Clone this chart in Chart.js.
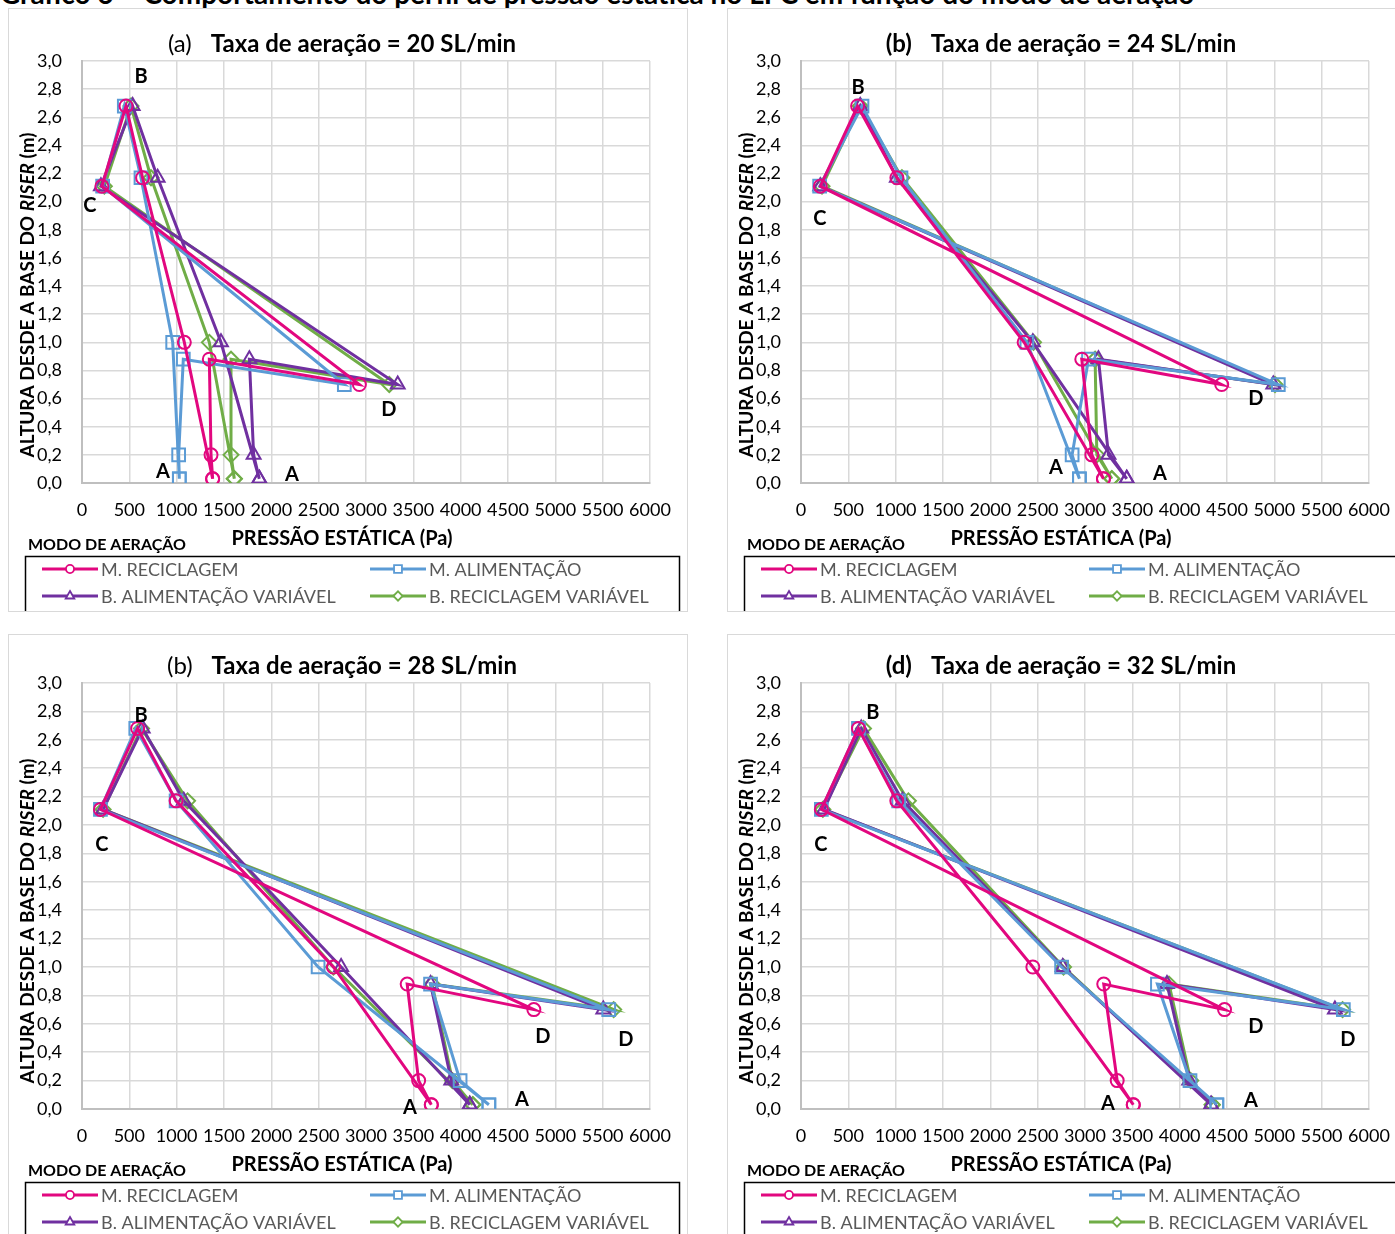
<!DOCTYPE html>
<html>
<head>
<meta charset="utf-8">
<script src="https://cdn.jsdelivr.net/npm/chart.js@4.4.1/dist/chart.umd.min.js"></script>
<style>
  html, body { margin: 0; padding: 0; background: #fff; }
  body { width: 1395px; height: 1234px; overflow: hidden; position: relative; font-family: Lato, "Liberation Sans", sans-serif; }
  .heading { position: absolute; left: 0; top: -24px; white-space: nowrap; font: bold 28px Lato, sans-serif; color: #000; }
  .panel { position: absolute; outline: 1px solid #d9d9d9; outline-offset: -1px; background: #fff; }
</style>
</head>
<body>
<div class="heading">Gráfico 6 – Comportamento do perfil de pressão estática no LFC em função do modo de aeração</div>
<canvas class="panel" id="p20" width="680" height="604" style="left:8px;top:8px"></canvas>
<canvas class="panel" id="p24" width="680" height="604" style="left:727px;top:8px"></canvas>
<canvas class="panel" id="p28" width="680" height="604" style="left:8px;top:634px"></canvas>
<canvas class="panel" id="p32" width="680" height="604" style="left:727px;top:634px"></canvas>
<script>
// Series names (aeration modes)
const SERIES_NAMES = ['M. RECICLAGEM', 'M. ALIMENTAÇÃO', 'B. ALIMENTAÇÃO VARIÁVEL', 'B. RECICLAGEM VARIÁVEL'];

// Pressure-tap heights (m), walked around the loop:
// A (riser base) -> riser 1.0 -> riser 2.17 -> B (top) -> C (cyclone) -> D -> 0.88 -> 0.20
const HEIGHTS = [0.03, 1.00, 2.17, 2.68, 2.11, 0.70, 0.88, 0.20];

// Static pressure (Pa) at each tap, aeration rate 20 SL/min
const P20_RECICLAGEM   = [1380, 1081, 640, 465, 210, 2930, 1345, 1363];
const P20_ALIMENTACAO  = [1028,  958, 623, 447, 218, 2771, 1070, 1021];
const P20_ALIM_VAR     = [1873, 1468, 799, 535, 200, 3335, 1768, 1813];
const P20_RECIC_VAR    = [1609, 1345, 729, 518, 236, 3246, 1574, 1574];

// 24 SL/min
const P24_RECICLAGEM   = [3195, 2357, 1013, 598, 204, 4444, 2966, 3072];
const P24_ALIMENTACAO  = [2941, 2386, 1056, 644, 197, 5042, 3037, 2864];
const P24_ALIM_VAR     = [3441, 2449, 1013, 626, 204, 4989, 3142, 3248];
const P24_RECIC_VAR    = [3283, 2456, 1066, 626, 222, 5007, 3107, 3125];

// 28 SL/min
const P28_RECICLAGEM   = [3690, 2656,  994, 588, 195, 4773, 3435, 3556];
const P28_ALIMENTACAO  = [4298, 2494,  994, 568, 195, 5564, 3682, 3994];
const P28_ALIM_VAR     = [4096, 2737, 1075, 641, 223, 5507, 3682, 3901];
const P28_RECIC_VAR    = [4128, 2656, 1115, 629, 223, 5616, 3698, 3913];

// 32 SL/min
const P32_RECICLAGEM   = [3510, 2449, 1012, 607, 215, 4474, 3198, 3340];
const P32_ALIMENTACAO  = [4393, 2753, 1032, 607, 215, 5729, 3765, 4109];
const P32_ALIM_VAR     = [4332, 2765, 1073, 636, 243, 5640, 3866, 4101];
const P32_RECIC_VAR    = [4344, 2773, 1134, 660, 231, 5721, 3887, 4117];

// Panel captions
const PANEL_TAGS   = ['(a)', '(b)', '(b)', '(d)'];
const PANEL_TEXTS  = ['Taxa de aeração = 20 SL/min', 'Taxa de aeração = 24 SL/min',
                      'Taxa de aeração = 28 SL/min', 'Taxa de aeração = 32 SL/min'];
const X_TITLE = 'PRESSÃO ESTÁTICA (Pa)';
const LEGEND_CAPTION = 'MODO DE AERAÇÃO';

// Loop point letters, anchored in data units (Pa, m)
const LETTERS_20 = [['B', 623, 2.89], ['C', 84, 1.97], ['D', 3242, 0.52], ['A', 855, 0.08], ['A', 2218, 0.06]];
const LETTERS_24 = [['B', 602, 2.81], ['C', 200, 1.88], ['D', 4805, 0.60], ['A', 2693, 0.11], ['A', 3791, 0.07]];
const LETTERS_28 = [['B', 623, 2.77], ['C', 211, 1.86], ['D', 4868, 0.51], ['D', 5745, 0.49], ['A', 3464, 0.01], ['A', 4646, 0.07]];
const LETTERS_32 = [['B', 760, 2.79], ['C', 211, 1.86], ['D', 4805, 0.58], ['D', 5776, 0.49], ['A', 3242, 0.04], ['A', 4752, 0.06]];

const X_MIN = 0, X_MAX = 6000, X_STEP = 500;
const Y_MIN = 0, Y_MAX = 3, Y_STEP = 0.2;

// ---- styling ----
const FONT = 'Lato';
const SERIES_STYLE = [
  { color: '#E2077F', point: 'circle',   radius: 6.5 },
  { color: '#5B9BD5', point: 'rect',     radius: 9   },
  { color: '#7030A0', point: 'triangle', radius: 8   },
  { color: '#70AD47', point: 'rectRot',  radius: 7.5 }
];

const PANELS = [
  { id: 'p20', series: [P20_RECICLAGEM, P20_ALIMENTACAO, P20_ALIM_VAR, P20_RECIC_VAR], letters: LETTERS_20, boldTag: false, plotTop: 53 },
  { id: 'p24', series: [P24_RECICLAGEM, P24_ALIMENTACAO, P24_ALIM_VAR, P24_RECIC_VAR], letters: LETTERS_24, boldTag: true,  plotTop: 53 },
  { id: 'p28', series: [P28_RECICLAGEM, P28_ALIMENTACAO, P28_ALIM_VAR, P28_RECIC_VAR], letters: LETTERS_28, boldTag: false, plotTop: 49 },
  { id: 'p32', series: [P32_RECICLAGEM, P32_ALIMENTACAO, P32_ALIM_VAR, P32_RECIC_VAR], letters: LETTERS_32, boldTag: true,  plotTop: 49 }
];

const PLOT_BOTTOM = 475;   // canvas y of the plot's lower edge
const PLOT_LEFT = 74;
const PLOT_RIGHT_PAD = 38;
const TEXT_CENTER_X = 334; // captions are centred on the panel, not the plot

// Draws caption, axis titles, legend box and loop letters
const panelDecor = {
  id: 'panelDecor',
  afterDatasetsDraw(chart, args, opts) {
    const ctx = chart.ctx;
    const xs = chart.scales.x, ys = chart.scales.y;
    ctx.save();
    ctx.fillStyle = '#000';
    ctx.textAlign = 'center';
    ctx.textBaseline = 'middle';
    ctx.font = `bold 20px ${FONT}`;
    for (const [t, px, h] of opts.letters) {
      ctx.fillText(t, xs.getPixelForValue(px), ys.getPixelForValue(h));
    }
    ctx.restore();
  },
  afterDraw(chart, args, opts) {
    const ctx = chart.ctx;
    ctx.save();
    ctx.fillStyle = '#000';
    ctx.textBaseline = 'middle';

    // caption: tag + bold text
    const tagFont = `${opts.boldTag ? 'bold ' : ''}24px ${FONT}`;
    const txtFont = `bold 24px ${FONT}`;
    ctx.font = tagFont;
    const wTag = ctx.measureText(opts.tag).width;
    ctx.font = txtFont;
    const wTxt = ctx.measureText(opts.text).width;
    const gap = 19;
    const total = wTag + gap + wTxt;
    const x0 = TEXT_CENTER_X - total / 2;
    const cy = opts.plotTop - 17;
    ctx.textAlign = 'left';
    ctx.font = tagFont; ctx.fillText(opts.tag, x0, cy);
    ctx.font = txtFont; ctx.fillText(opts.text, x0 + wTag + gap, cy);

    // horizontal axis title
    ctx.textAlign = 'center';
    ctx.font = `bold 20px ${FONT}`;
    ctx.fillText(X_TITLE, TEXT_CENTER_X, 531);

    // vertical axis title with italic RISER
    ctx.textAlign = 'left';
    const parts = [['ALTURA DESDE A BASE DO ', 'bold'], ['RISER', 'italic bold'], [' (m)', 'bold']];
    let totalW = 0;
    for (const p of parts) { ctx.font = `${p[1]} 19px ${FONT}`; p.push(ctx.measureText(p[0]).width); totalW += p[2]; }
    ctx.translate(20, 287);
    ctx.rotate(-Math.PI / 2);
    let tx = -totalW / 2;
    for (const p of parts) { ctx.font = `${p[1]} 19px ${FONT}`; ctx.fillText(p[0], tx, 0); tx += p[2]; }
    ctx.setTransform(1, 0, 0, 1, 0, 0);

    // legend caption
    ctx.font = `bold 16px ${FONT}`;
    ctx.textAlign = 'left';
    ctx.fillText(LEGEND_CAPTION, 20, 537);

    // legend box
    ctx.strokeStyle = '#000';
    ctx.lineWidth = 1.5;
    ctx.strokeRect(17.5, 548.5, 654, 60);
    const rows = [561, 588];
    const cols = [34, 362];
    chart.data.datasets.forEach((ds, i) => {
      const lx = cols[i % 2], ly = rows[Math.floor(i / 2)];
      ctx.strokeStyle = ds.borderColor;
      ctx.lineWidth = 3;
      ctx.beginPath(); ctx.moveTo(lx, ly); ctx.lineTo(lx + 56, ly); ctx.stroke();
      ctx.lineWidth = 1.8;
      ctx.fillStyle = '#fff';
      Chart.helpers.drawPoint(ctx, { pointStyle: ds.pointStyle, radius: ds.pointRadius * 0.62, borderWidth: 1.8 }, lx + 28, ly);
      ctx.fillStyle = '#595959';
      ctx.font = `18px ${FONT}`;
      ctx.textBaseline = 'middle';
      ctx.fillText(ds.label, lx + 59, ly + 1);
    });
    ctx.restore();
  }
};

function buildDatasets(seriesArrays) {
  return seriesArrays.map((vals, i) => {
    const pts = vals.map((p, k) => ({ x: p, y: HEIGHTS[k] }));
    pts.push(pts[0]); // close the loop back at A
    const st = SERIES_STYLE[i];
    return {
      label: SERIES_NAMES[i],
      data: pts,
      showLine: true,
      borderColor: st.color,
      backgroundColor: 'rgba(0,0,0,0)',
      borderWidth: 3,
      pointStyle: st.point,
      pointRadius: st.radius,
      pointBorderWidth: 2,
      pointBorderColor: st.color,
      pointBackgroundColor: 'rgba(0,0,0,0)',
      tension: 0
    };
  });
}

PANELS.forEach((pn, idx) => {
  new Chart(document.getElementById(pn.id), {
    type: 'scatter',
    data: { datasets: buildDatasets(pn.series) },
    options: {
      responsive: false,
      animation: false,
      events: [],
      layout: { padding: { top: pn.plotTop, right: PLOT_RIGHT_PAD, left: 0, bottom: 604 - PLOT_BOTTOM - 68 } },
      plugins: {
        legend: { display: false },
        title: { display: false },
        tooltip: { enabled: false },
        panelDecor: { letters: pn.letters, tag: PANEL_TAGS[idx], text: PANEL_TEXTS[idx], boldTag: pn.boldTag, plotTop: pn.plotTop }
      },
      scales: {
        x: {
          type: 'linear', min: X_MIN, max: X_MAX,
          ticks: { stepSize: X_STEP, autoSkip: false, maxRotation: 0, padding: 16, color: '#000',
                   font: { family: FONT, size: 18 }, callback: v => String(v) },
          grid: { color: '#d9d9d9', lineWidth: 1.5, drawTicks: false },
          border: { color: '#bfbfbf', width: 2 },
          afterFit(s) { s.height = 68; }
        },
        y: {
          type: 'linear', min: Y_MIN, max: Y_MAX,
          ticks: { stepSize: Y_STEP, padding: 20, color: '#000', font: { family: FONT, size: 18 },
                   callback: v => v.toFixed(1).replace('.', ',') },
          grid: { color: '#d9d9d9', lineWidth: 1.5, drawTicks: false },
          border: { color: '#bfbfbf', width: 2 },
          afterFit(s) { s.width = PLOT_LEFT; }
        }
      }
    },
    plugins: [panelDecor]
  });
});
</script>
</body>
</html>
